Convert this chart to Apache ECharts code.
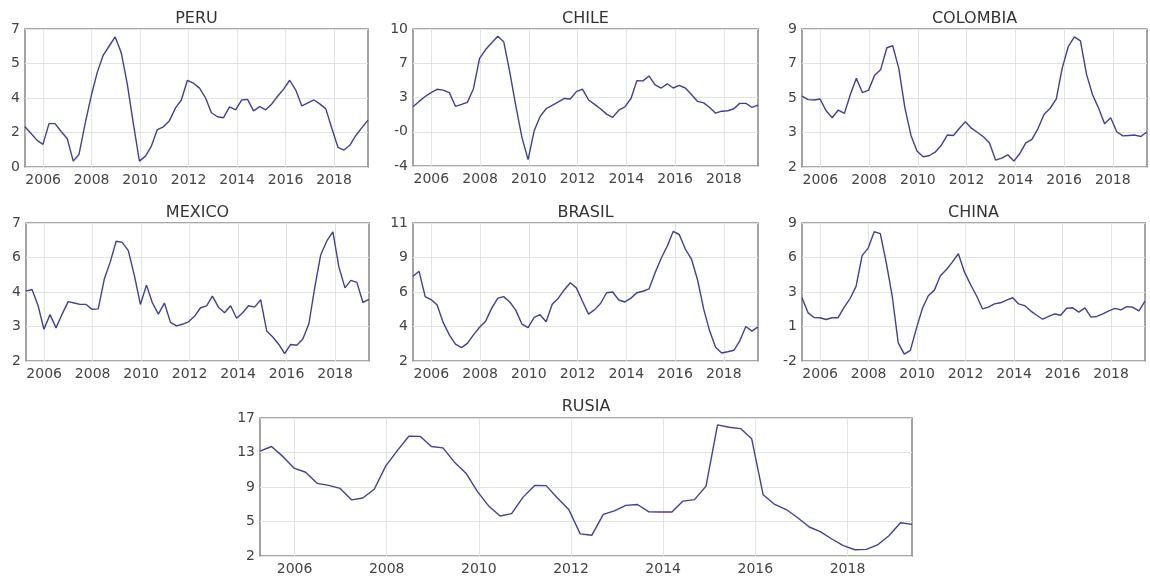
<!DOCTYPE html>
<html><head><meta charset="utf-8">
<script src="https://cdn.jsdelivr.net/npm/echarts@6/dist/echarts.min.js"></script>
<style>html,body{margin:0;padding:0;background:#fff}#c{width:1150px;height:576px}</style>
</head><body><div id="c"></div>
<script>
const periods = [2005.25,2005.50,2005.75,2005.99,2006.24,2006.49,2006.74,2006.99,2007.24,2007.48,2007.73,2007.98,2008.23,2008.48,2008.73,2008.97,2009.22,2009.47,2009.72,2009.97,2010.22,2010.46,2010.71,2010.96,2011.21,2011.46,2011.70,2011.95,2012.20,2012.45,2012.70,2012.94,2013.19,2013.44,2013.69,2013.94,2014.19,2014.43,2014.68,2014.93,2015.18,2015.43,2015.68,2015.92,2016.17,2016.42,2016.67,2016.92,2017.17,2017.41,2017.66,2017.91,2018.16,2018.41,2018.65,2018.90,2019.15,2019.40];
const yearTicks = [2006,2008,2010,2012,2014,2016,2018];

const peru = [2.04,1.7,1.35,1.15,2.2,2.2,1.8,1.45,0.3,0.65,2.2,3.6,4.8,5.68,6.15,6.6,5.8,4.2,2.2,0.3,0.55,1.05,1.9,2.04,2.35,3.0,3.4,4.4,4.25,4.0,3.5,2.75,2.55,2.5,3.05,2.9,3.4,3.43,2.85,3.06,2.9,3.2,3.6,3.95,4.4,3.9,3.1,3.25,3.4,3.2,2.95,1.95,1.0,0.86,1.1,1.6,2.0,2.38];
const chile = [2.06,2.6,3.1,3.5,3.84,3.75,3.5,2.1,2.3,2.5,3.9,7.0,7.9,8.6,9.25,8.7,5.6,2.1,-1.1,-3.35,-0.4,1.04,1.85,2.2,2.55,2.9,2.85,3.6,3.85,2.75,2.3,1.85,1.3,0.97,1.7,2.05,2.9,4.72,4.7,5.2,4.3,3.97,4.4,3.97,4.25,3.97,3.3,2.6,2.45,2.0,1.4,1.6,1.65,1.85,2.4,2.4,2.0,2.23];
const colombia = [5.6,5.42,5.4,5.45,4.85,4.5,4.89,4.72,5.7,6.5,5.77,5.9,6.65,6.95,8.05,8.15,7.0,5.0,3.6,2.8,2.52,2.57,2.75,3.1,3.62,3.6,3.95,4.3,3.97,3.75,3.52,3.22,2.35,2.45,2.62,2.3,2.7,3.22,3.4,3.95,4.68,4.98,5.45,7.0,8.1,8.6,8.4,6.7,5.65,5.0,4.2,4.5,3.79,3.58,3.6,3.62,3.55,3.79];
const mexico = [4.53,4.59,4.0,3.15,3.68,3.2,3.7,4.15,4.1,4.05,4.05,3.87,3.89,4.97,5.6,6.34,6.3,6.0,5.1,4.05,4.75,4.12,3.7,4.1,3.4,3.27,3.33,3.42,3.62,3.93,4.0,4.35,3.95,3.75,4.0,3.55,3.75,4.0,3.95,4.22,3.09,2.87,2.6,2.27,2.6,2.57,2.8,3.35,4.7,5.85,6.35,6.68,5.4,4.65,4.92,4.85,4.12,4.23];
const brasil = [7.53,7.85,6.2,6.01,5.65,4.5,3.7,3.1,2.87,3.15,3.7,4.2,4.6,5.45,6.1,6.2,5.85,5.3,4.4,4.17,4.85,5.02,4.56,5.7,6.1,6.65,7.1,6.77,5.9,5.06,5.35,5.75,6.45,6.5,5.98,5.85,6.1,6.45,6.55,6.7,7.75,8.7,9.5,10.45,10.25,9.3,8.65,7.3,5.4,4.0,2.9,2.52,2.6,2.7,3.3,4.25,3.95,4.23];
const china = [3.04,1.84,1.47,1.45,1.31,1.45,1.45,2.3,3.0,3.95,6.4,7.0,8.3,8.15,5.8,3.2,-0.55,-1.45,-1.15,0.6,2.2,3.2,3.65,4.8,5.29,5.9,6.55,5.1,4.1,3.2,2.15,2.3,2.55,2.64,2.85,3.04,2.55,2.42,2.0,1.65,1.33,1.55,1.75,1.65,2.2,2.24,1.9,2.24,1.5,1.55,1.75,2.0,2.2,2.08,2.33,2.28,2.0,2.77];
const rusia = [13.39,13.9,12.8,11.55,11.1,9.9,9.67,9.35,8.1,8.3,9.25,11.8,13.45,15.02,15.0,13.9,13.75,12.2,11.0,9.0,7.4,6.35,6.6,8.4,9.67,9.65,8.33,7.06,4.4,4.25,6.52,6.9,7.5,7.6,6.8,6.78,6.78,7.97,8.13,9.6,16.25,16.0,15.85,14.75,8.65,7.6,7.05,6.16,5.15,4.65,3.85,3.12,2.68,2.72,3.2,4.2,5.62,5.44];

const names = ['PERU','CHILE','COLOMBIA','MEXICO','BRASIL','CHINA','RUSIA'];
const seriesData = [peru, chile, colombia, mexico, brasil, china, rusia];
const yRanges = [[0,7],[-4,10],[2,9],[2,7],[2,11],[-2,9],[2,17]];
const yLabels = [
  ['0','2','4','5','7'],
  ['-4','-0','3','7','10'],
  ['2','3','5','7','9'],
  ['2','3','4','6','7'],
  ['2','4','6','9','11'],
  ['-2','1','3','6','9'],
  ['2','5','9','13','17']
];

// layout (pixels)
const boxes = [
  [25,29,343,138],[413,29,345,137],[802,29,345,138],
  [26,223,343,138],[413,223,345,138],[802,223,343,138],
  [260,418,652,138]
];
const titleY = [19,19,19,213,213,213,407];

const FONT = 'DejaVu Sans';
const grid=[], xAxis=[], yAxis=[], series=[];
const xMin = 2005.25, xMax = 2019.40;
names.forEach((nm, i) => {
  const [l,t,w,h] = boxes[i];
  grid.push({left:l, top:t, width:w, height:h, show:true, borderColor:'#8c8c8c', borderWidth:1.6, backgroundColor:'#fff'});
  xAxis.push({
    type:'value', gridIndex:i, min:xMin, max:xMax,
    axisLine:{show:false}, axisTick:{show:false, customValues:yearTicks},
    axisLabel:{customValues:yearTicks, color:'#444', fontSize:14, fontFamily:FONT, margin:6, formatter:v=>String(Math.round(v))},
    splitLine:{show:true, lineStyle:{color:'#e3e3e3', width:1}}
  });
  const [mn,mx] = yRanges[i];
  const step = (mx-mn)/4;
  const yt = [0,1,2,3,4].map(k=>mn+k*step);
  yAxis.push({
    type:'value', gridIndex:i, min:mn, max:mx,
    axisLine:{show:false}, axisTick:{show:false, customValues:yt},
    axisLabel:{customValues:yt, color:'#444', fontSize:14, fontFamily:FONT, margin:5,
      formatter:v=>yLabels[i][Math.round((v-mn)/step)]},
    splitLine:{show:true, lineStyle:{color:'#e3e3e3', width:1}}
  });
  series.push({
    type:'line', name:nm, xAxisIndex:i, yAxisIndex:i,
    data: periods.map((p,k)=>[p, seriesData[i][k]]),
    showSymbol:false, symbol:'none', smooth:false,
    lineStyle:{color:'#40409a', width:1.4}, z:3
  });
});

const chart = echarts.init(document.getElementById('c'), null, {renderer:'canvas'});
chart.setOption({animation:false, grid, xAxis, yAxis, series,
  graphic: names.map((nm,i)=>({type:'text', x: boxes[i][0]+boxes[i][2]/2, y: titleY[i],
    style:{text:nm, fill:'#333', fontSize:16, fontFamily:FONT, align:'center', verticalAlign:'middle'}}))
});
</script></body></html>
